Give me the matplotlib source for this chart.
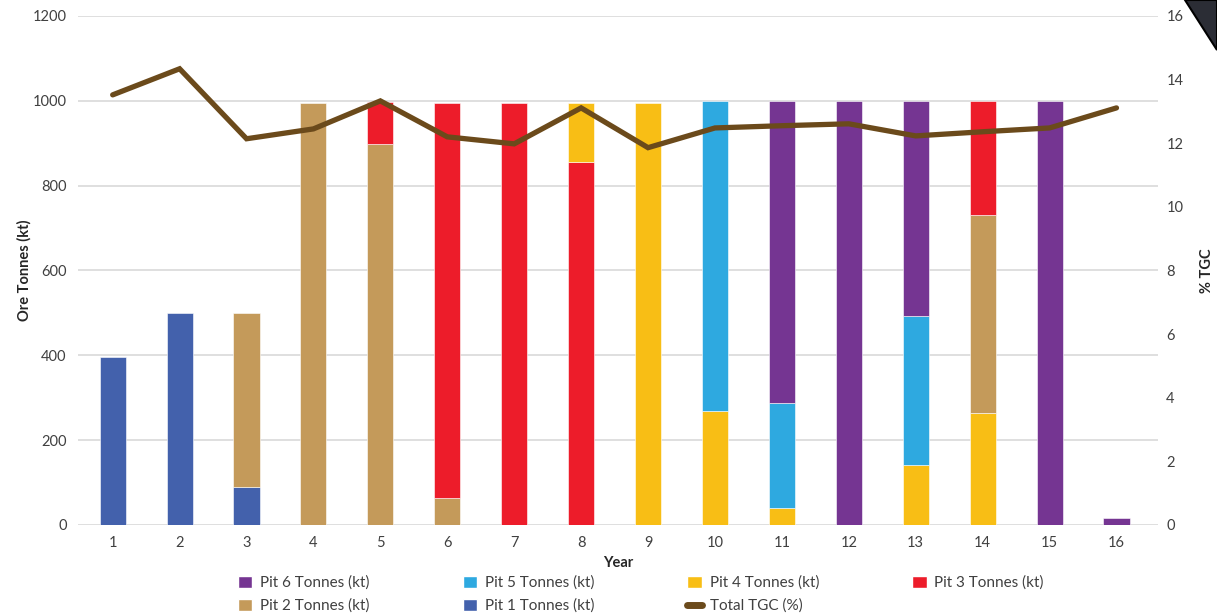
import matplotlib
matplotlib.use("Agg")
import matplotlib.pyplot as plt
from matplotlib.patches import Polygon, Patch
from matplotlib.lines import Line2D
import numpy as np

plt.rcParams['font.family'] = ['Lato', 'DejaVu Sans']

years = [str(i) for i in range(1, 17)]
pit1 = [395, 500, 90, 0, 0, 0, 0, 0, 0, 0, 0, 0, 0, 0, 0, 0]
pit2 = [0, 0, 410, 995, 897, 64, 0, 0, 0, 0, 0, 0, 0, 466, 0, 0]
pit3 = [0, 0, 0, 0, 100, 931, 995, 855, 0, 0, 0, 0, 0, 270, 0, 0]
pit4 = [0, 0, 0, 0, 0, 0, 0, 140, 995, 268, 40, 0, 142, 264, 0, 0]
pit5 = [0, 0, 0, 0, 0, 0, 0, 0, 0, 732, 248, 0, 351, 0, 0, 0]
pit6 = [0, 0, 0, 0, 0, 0, 0, 0, 0, 0, 712, 1000, 507, 0, 1000, 17]
tgc = [13.52, 14.34, 12.14, 12.45, 13.33, 12.2, 11.98, 13.11, 11.86,
       12.48, 12.55, 12.61, 12.23, 12.36, 12.48, 13.11]

names = ["Pit 1 Tonnes (kt)", "Pit 2 Tonnes (kt)", "Pit 3 Tonnes (kt)",
         "Pit 4 Tonnes (kt)", "Pit 5 Tonnes (kt)", "Pit 6 Tonnes (kt)"]
values = [pit1, pit2, pit3, pit4, pit5, pit6]
colors = ["#4361AC", "#C49A5A", "#ED1C2A", "#F8BE15", "#2EA9E0", "#753592"]
line_color = "#6B4A1B"

# stacking order (bottom to top) by series index; year 14 stacks Pit 4 below Pit 2
default_order = [0, 1, 2, 3, 4, 5]
order_override = {13: [0, 3, 1, 2, 4, 5]}

fig = plt.figure(figsize=(12.17, 6.14), dpi=100)
ax = fig.add_axes([0.064, 0.145, 0.8875, 0.829])
ax2 = ax.twinx()

x = np.arange(len(years))
for i in range(len(years)):
    b = 0.0
    for s in order_override.get(i, default_order):
        v = values[s][i]
        if v > 0:
            ax.bar(x[i], v, 0.39, bottom=b, color=colors[s], edgecolor='white',
                   linewidth=0.4, zorder=3)
            b += v

ax2.plot(x, tgc, color=line_color, linewidth=3.8, solid_capstyle='round',
         solid_joinstyle='miter', zorder=4)

ax.set_ylim(0, 1200)
ax.set_yticks(range(0, 1201, 200))
ax2.set_ylim(0, 16)
ax2.set_yticks(range(0, 17, 2))
ax.set_xlim(-0.52, 15.62)
ax.set_xticks(x)
ax.set_xticklabels(years)

ax.grid(axis='y', color='#D9D9D9', linewidth=1.2, zorder=0)
ax.set_axisbelow(True)
for a in (ax, ax2):
    for s in a.spines.values():
        s.set_visible(False)
    a.tick_params(length=0, labelsize=10.5, colors='#404040')
ax.tick_params(axis='y', pad=8)
ax2.tick_params(axis='y', pad=6)
ax.tick_params(axis='x', pad=8)

ax.set_ylabel("Ore Tonnes (kt)", fontsize=10.5, fontweight='bold', color='#262626', labelpad=1)
ax2.set_ylabel("% TGC", fontsize=10.5, fontweight='bold', color='#262626', labelpad=12)
ax.set_xlabel("Year", fontsize=10.5, fontweight='bold', color='#262626', labelpad=4)
ax2.patch.set_visible(False)

# legend (row-wise layout in 4 columns)
leg_order = [5, 4, 3, 2, 1, 0]
handles = [Patch(facecolor=colors[i], edgecolor='white') for i in leg_order]
labels = [names[i] for i in leg_order]
handles.append(Line2D([0], [0], color=line_color, linewidth=5, solid_capstyle='round'))
labels.append("Total TGC (%)")
rows = [handles[:4], handles[4:] + [None]]
lrows = [labels[:4], labels[4:] + [None]]
h2, l2 = [], []
for c in range(4):
    for r in range(2):
        if rows[r][c] is not None:
            h2.append(rows[r][c]); l2.append(lrows[r][c])
fig.legend(h2, l2, ncol=4, loc='lower left', bbox_to_anchor=(0.184, -0.021),
           frameon=False, fontsize=11, handlelength=0.95, handleheight=0.8,
           columnspacing=6.1, labelspacing=0.57, handletextpad=0.5,
           labelcolor='#404040')

# corner decoration
poly = Polygon([(1185 / 1217, 1.0), (1217 / 1217, 1.0), (1217 / 1217, 1 - 50 / 614)],
               closed=True, transform=fig.transFigure, facecolor='#2B2D35',
               edgecolor='black', linewidth=1.5)
fig.patches.append(poly)

fig.savefig("out.png", dpi=100)
